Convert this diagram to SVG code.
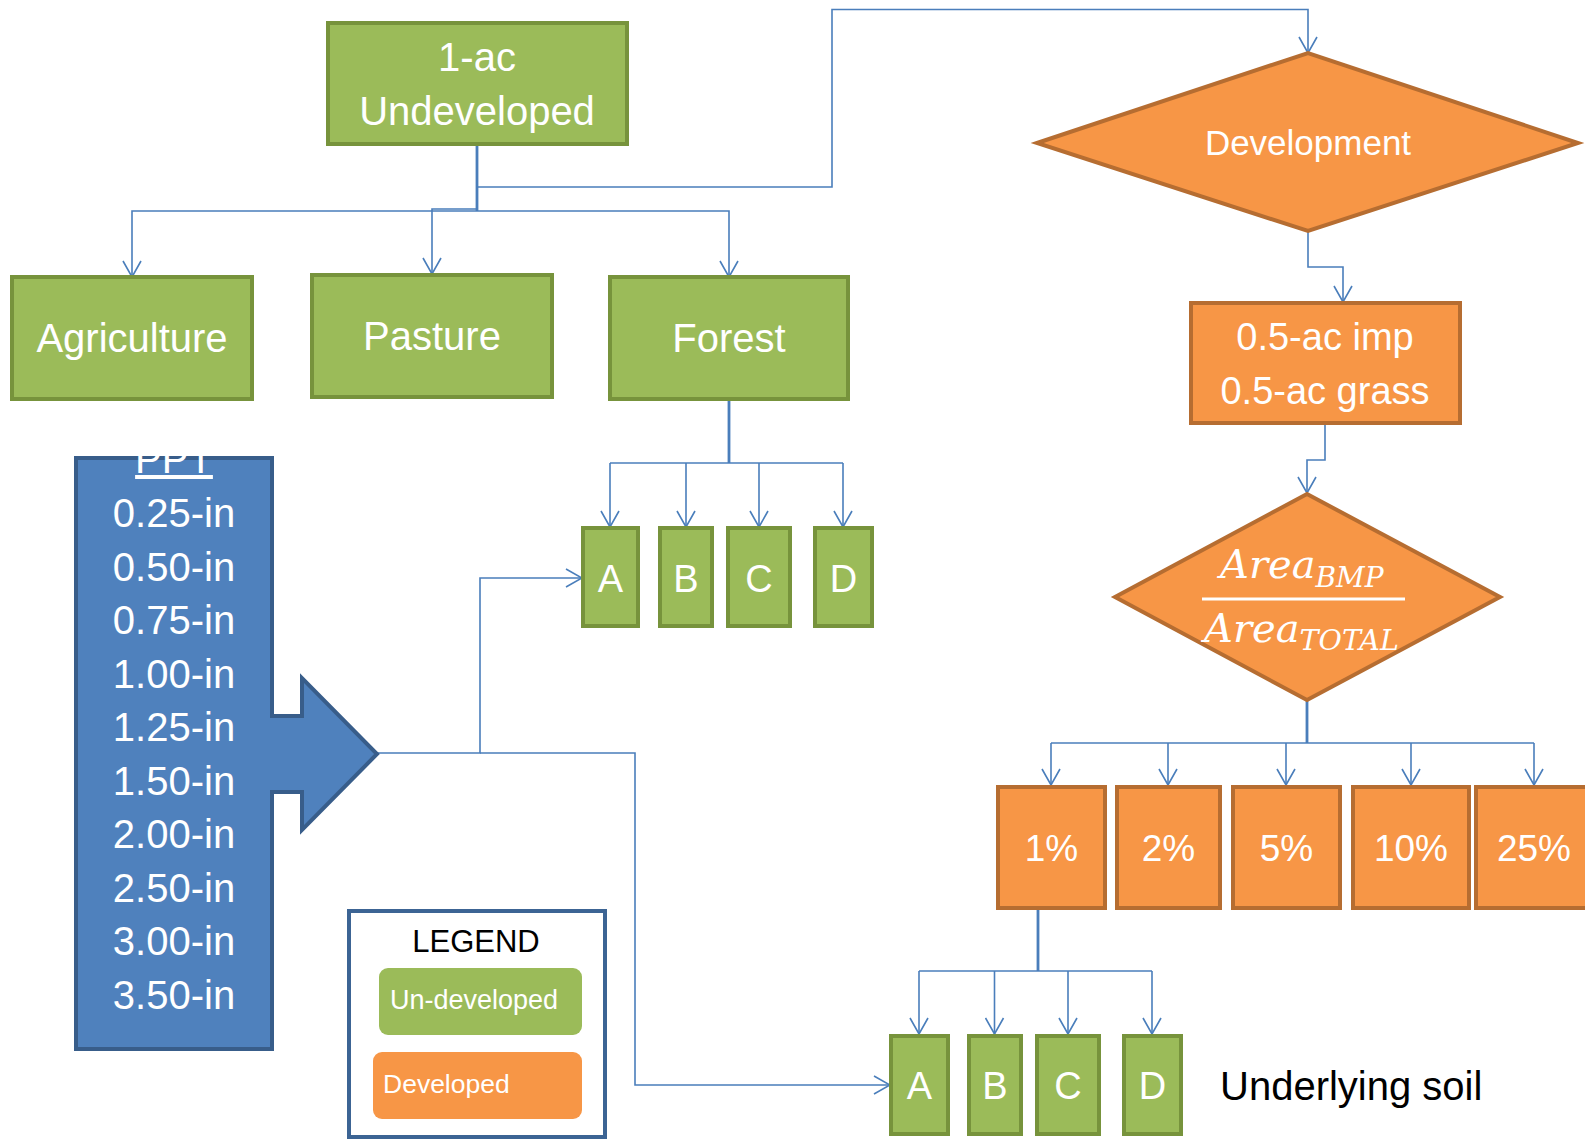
<svg xmlns="http://www.w3.org/2000/svg" width="1585" height="1140" viewBox="0 0 1585 1140">
<defs>
<marker id="arr" viewBox="0 0 18 20" refX="17" refY="10" markerWidth="18" markerHeight="20" markerUnits="userSpaceOnUse" orient="auto">
<path d="M1,1 L17,10 L1,19" fill="none" stroke="#4A7EBB" stroke-width="1.6"/>
</marker>
<style>
.g{fill:#9BBB59;stroke:#77933C;stroke-width:4}
.o{fill:#F79646;stroke:#B66D31;stroke-width:4}
.t{font-family:"Liberation Sans",Arial,sans-serif;fill:#fff;text-anchor:middle}
.c{fill:none;stroke:#4A7EBB;stroke-width:1.6}
.ca{fill:none;stroke:#4A7EBB;stroke-width:1.6;marker-end:url(#arr)}
.tk{fill:none;stroke:#4A7EBB;stroke-width:2.8}
.m{font-family:"DejaVu Serif",serif;font-style:italic;fill:#fff}
</style>
</defs>
<rect width="1585" height="1140" fill="#fff"/>

<g id="connectors">
<path class="tk" d="M477,144 V211"/>
<path class="ca" d="M477,209 H432 V274"/>
<path class="ca" d="M477,211 H132 V277"/>
<path class="ca" d="M477,211 H729 V277"/>
<path class="ca" d="M477,187 H832 V9.5 H1308 V53"/>
<path class="ca" d="M1308,231 V267 H1343 V302"/>
<path class="ca" d="M1325,423 V460 H1307 V493"/>
<path class="tk" d="M729,399 V463"/>
<path class="c" d="M610,463 H843"/>
<path class="ca" d="M610,463 V527"/>
<path class="ca" d="M686,463 V527"/>
<path class="ca" d="M759,463 V527"/>
<path class="ca" d="M843,463 V527"/>
<path class="tk" d="M1307,700 V743"/>
<path class="c" d="M1051,743 H1534"/>
<path class="ca" d="M1051,743 V785"/>
<path class="ca" d="M1168,743 V785"/>
<path class="ca" d="M1286,743 V785"/>
<path class="ca" d="M1411,743 V785"/>
<path class="ca" d="M1534,743 V785"/>
<path class="tk" d="M1038,908 V971"/>
<path class="c" d="M919,971 H1152"/>
<path class="ca" d="M919,971 V1034"/>
<path class="ca" d="M994.5,971 V1034"/>
<path class="ca" d="M1068,971 V1034"/>
<path class="ca" d="M1152,971 V1034"/>
<path class="ca" d="M377,753 H480 V578 H582"/>
<path class="ca" d="M480,753 H635 V1085 H890"/>
</g>

<g id="n-1ac">
<rect class="g" x="328" y="23" width="299" height="121"/>
<text class="t" x="477" y="71" font-size="40">1-ac</text>
<text class="t" x="477" y="125" font-size="40">Undeveloped</text>
</g>
<g id="n-agriculture">
<rect class="g" x="12" y="277" width="240" height="122"/>
<text class="t" x="132" y="352" font-size="40">Agriculture</text>
</g>
<g id="n-pasture">
<rect class="g" x="312" y="275" width="240" height="122"/>
<text class="t" x="432" y="350" font-size="40">Pasture</text>
</g>
<g id="n-forest">
<rect class="g" x="610" y="277" width="238" height="122"/>
<text class="t" x="729" y="352" font-size="40">Forest</text>
</g>

<g id="n-soil1-A"><rect class="g" x="583" y="528" width="55" height="98"/><text class="t" x="610.5" y="592" font-size="38">A</text></g>
<g id="n-soil1-B"><rect class="g" x="660" y="528" width="52" height="98"/><text class="t" x="686" y="592" font-size="38">B</text></g>
<g id="n-soil1-C"><rect class="g" x="728" y="528" width="62" height="98"/><text class="t" x="759" y="592" font-size="38">C</text></g>
<g id="n-soil1-D"><rect class="g" x="815" y="528" width="57" height="98"/><text class="t" x="843.5" y="592" font-size="38">D</text></g>

<g id="n-development">
<polygon class="o" points="1037,143 1308,53 1578,143 1308,231"/>
<text class="t" x="1308" y="155" font-size="35">Development</text>
</g>
<g id="n-imp">
<rect class="o" x="1191" y="303" width="269" height="120"/>
<text class="t" x="1325" y="350" font-size="38">0.5-ac imp</text>
<text class="t" x="1325" y="404" font-size="38">0.5-ac grass</text>
</g>
<g id="n-ratio">
<polygon class="o" points="1115,597 1307,494 1500,597 1307,700"/>
<text class="m" x="1220" y="578" font-size="40">Area<tspan font-size="28" dy="9">BMP</tspan></text>
<rect x="1202" y="597.5" width="203" height="3" fill="#fff"/>
<text class="m" x="1204" y="642" font-size="40">Area<tspan font-size="28.5" dy="8">TOTAL</tspan></text>
</g>

<g id="n-p1"><rect class="o" x="998" y="787" width="107" height="121"/><text class="t" x="1051.5" y="861" font-size="37">1%</text></g>
<g id="n-p2"><rect class="o" x="1117" y="787" width="103" height="121"/><text class="t" x="1168.5" y="861" font-size="37">2%</text></g>
<g id="n-p5"><rect class="o" x="1233" y="787" width="107" height="121"/><text class="t" x="1286.5" y="861" font-size="37">5%</text></g>
<g id="n-p10"><rect class="o" x="1353" y="787" width="116" height="121"/><text class="t" x="1411" y="861" font-size="37">10%</text></g>
<g id="n-p25"><rect class="o" x="1476" y="787" width="120" height="121"/><text class="t" x="1534" y="861" font-size="37">25%</text></g>

<g id="n-soil2-A"><rect class="g" x="891" y="1036" width="57" height="98"/><text class="t" x="919.5" y="1099" font-size="38">A</text></g>
<g id="n-soil2-B"><rect class="g" x="969" y="1036" width="52" height="98"/><text class="t" x="995" y="1099" font-size="38">B</text></g>
<g id="n-soil2-C"><rect class="g" x="1037" y="1036" width="62" height="98"/><text class="t" x="1068" y="1099" font-size="38">C</text></g>
<g id="n-soil2-D"><rect class="g" x="1124" y="1036" width="57" height="98"/><text class="t" x="1152.5" y="1099" font-size="38">D</text></g>
<g id="n-underlying">
<text x="1220" y="1100" font-size="40" font-family="'Liberation Sans',Arial,sans-serif" fill="#000">Underlying soil</text>
</g>

<g id="n-ppt">
<path d="M76,458 H272 V716 H302 V678 L377,754 L302,830 V792 H272 V1049 H76 Z" fill="#4F81BD" stroke="#385D8A" stroke-width="4" stroke-linejoin="miter"/>
<text class="t" x="174" y="473" font-size="40" text-decoration="underline">PPT</text>
<text class="t" x="174" y="527" font-size="40">0.25-in</text>
<text class="t" x="174" y="580.5" font-size="40">0.50-in</text>
<text class="t" x="174" y="634" font-size="40">0.75-in</text>
<text class="t" x="174" y="687.5" font-size="40">1.00-in</text>
<text class="t" x="174" y="741" font-size="40">1.25-in</text>
<text class="t" x="174" y="794.5" font-size="40">1.50-in</text>
<text class="t" x="174" y="848" font-size="40">2.00-in</text>
<text class="t" x="174" y="901.5" font-size="40">2.50-in</text>
<text class="t" x="174" y="955" font-size="40">3.00-in</text>
<text class="t" x="174" y="1008.5" font-size="40">3.50-in</text>
</g>

<g id="legend">
<rect x="349" y="911" width="256" height="226" fill="#fff" stroke="#3C6494" stroke-width="4"/>
<text x="476" y="952" font-size="31" font-family="'Liberation Sans',Arial,sans-serif" fill="#000" text-anchor="middle">LEGEND</text>
<rect x="379" y="968" width="203" height="67" rx="9" fill="#9BBB59"/>
<text x="390" y="1009" font-size="27" font-family="'Liberation Sans',Arial,sans-serif" fill="#fff">Un-developed</text>
<rect x="373" y="1052" width="209" height="67" rx="9" fill="#F79646"/>
<text x="383" y="1093" font-size="26.5" font-family="'Liberation Sans',Arial,sans-serif" fill="#fff">Developed</text>
</g>
</svg>
